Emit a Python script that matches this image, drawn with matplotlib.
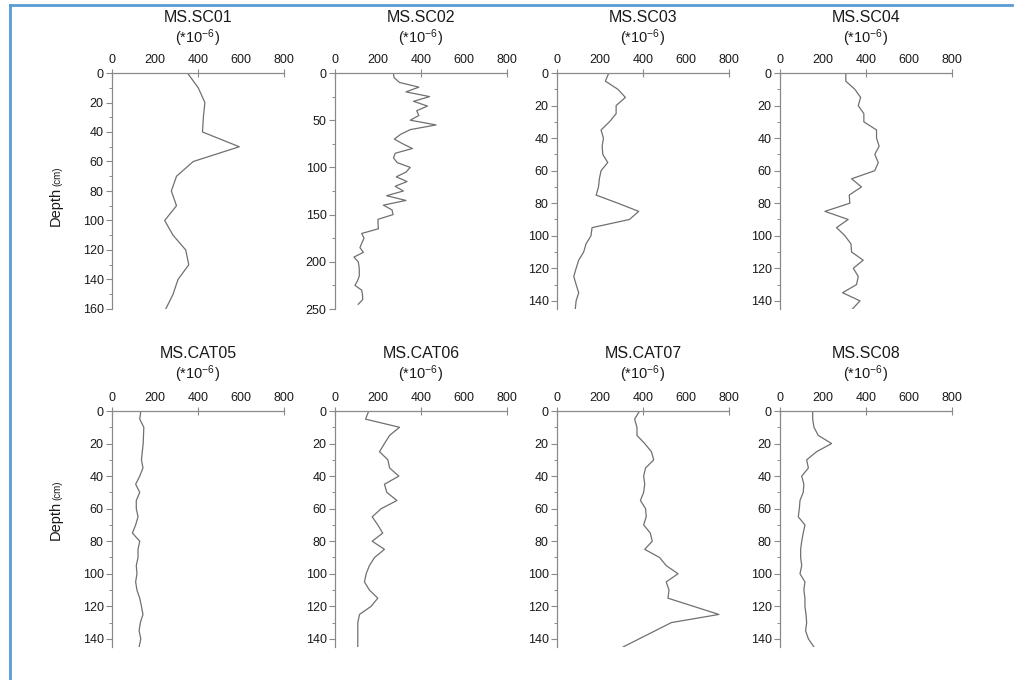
import matplotlib
matplotlib.use('Agg')
import matplotlib.pyplot as plt
from matplotlib.lines import Line2D
import numpy as np

plt.rcParams['font.family'] = ['Liberation Sans', 'DejaVu Sans']
plt.rcParams['mathtext.default'] = 'regular'

# ---------------- data ----------------
titles = ["MS.SC01", "MS.SC02", "MS.SC03", "MS.SC04",
          "MS.CAT05", "MS.CAT06", "MS.CAT07", "MS.SC08"]
unit_label = r"(*10$^{-6}$)"

sc01_depth = [0, 10, 20, 30, 40, 50, 60, 70, 80, 90, 100, 110, 120, 130, 140, 150, 160]
sc01_ms = [351, 401, 432, 425, 421, 592, 378, 300, 276, 300, 245, 284, 343, 357, 307, 284, 250]

sc02_depth = [0, 5, 10, 15, 20, 25, 30, 35, 40, 45, 50, 55, 60, 65, 70, 75, 80, 85, 90, 95,
              100, 105, 110, 115, 120, 125, 130, 135, 140, 145, 150, 155, 160, 165, 170, 175,
              180, 185, 190, 195, 200, 205, 210, 215, 220, 225, 230, 235, 240, 245]
sc02_ms = [271, 275, 300, 390, 330, 440, 365, 430, 380, 390, 350, 470, 350, 305, 276, 315,
           360, 280, 272, 290, 350, 330, 285, 335, 280, 318, 240, 330, 225, 265, 270, 200,
           200, 202, 124, 135, 125, 116, 132, 88, 108, 112, 113, 113, 105, 93, 124, 128, 129, 108]

sc03_depth = [0, 5, 10, 15, 20, 25, 30, 35, 40, 45, 50, 55, 60, 65, 70, 75, 80, 85, 90, 95,
              100, 105, 110, 115, 120, 125, 130, 135, 140, 145]
sc03_ms = [241, 225, 283, 318, 275, 275, 244, 205, 216, 210, 213, 236, 205, 197, 193, 182,
           283, 380, 337, 163, 158, 135, 124, 101, 89, 78, 89, 101, 89, 85]

sc04_depth = [0, 5, 10, 15, 20, 25, 30, 35, 40, 45, 50, 55, 60, 65, 70, 75, 80, 85, 90, 95,
              100, 105, 110, 115, 120, 125, 130, 135, 140, 145]
sc04_ms = [306, 306, 348, 375, 364, 390, 390, 449, 449, 461, 441, 457, 441, 333, 379, 322,
           325, 209, 317, 263, 302, 330, 333, 387, 341, 364, 356, 291, 372, 337]

cat05_depth = [0, 5, 10, 20, 30, 35, 40, 45, 50, 55, 60, 65, 70, 75, 80, 85, 90, 95,
               100, 105, 110, 115, 120, 125, 130, 135, 140, 145]
cat05_ms = [134, 129, 148, 145, 137, 144, 129, 110, 129, 113, 113, 121, 110, 95, 129, 121,
            121, 113, 116, 110, 116, 129, 137, 144, 132, 126, 134, 126]

cat06_depth = [0, 5, 10, 15, 20, 25, 30, 35, 40, 45, 50, 55, 60, 65, 70, 75, 80, 85, 90, 95,
               100, 105, 110, 115, 120, 125, 130, 135, 140, 145]
cat06_ms = [157, 142, 300, 254, 230, 207, 246, 254, 297, 230, 241, 288, 215, 173, 199, 222,
            173, 230, 184, 160, 145, 137, 160, 199, 168, 114, 106, 106, 106, 106]

cat07_depth = [0, 5, 10, 15, 20, 25, 30, 35, 40, 45, 50, 55, 60, 65, 70, 75, 80, 85, 90, 95,
               100, 105, 110, 115, 125, 130, 145]
cat07_ms = [384, 361, 372, 372, 408, 439, 450, 412, 403, 408, 403, 388, 412, 415, 403, 434,
            443, 408, 477, 508, 563, 508, 521, 516, 753, 532, 307]

sc08_depth = [0, 5, 10, 15, 20, 25, 30, 35, 40, 45, 50, 55, 60, 65, 70, 75, 80, 85, 90, 95,
              100, 105, 110, 115, 120, 125, 130, 135, 140, 145]
sc08_ms = [152, 152, 158, 178, 240, 170, 124, 132, 101, 111, 108, 93, 90, 85, 116, 108,
           101, 96, 96, 101, 93, 116, 111, 116, 116, 121, 124, 119, 132, 158]

x_ticks_major = [0, 400, 800]
x_ticks_minor = [200, 600]

series = [(sc01_ms, sc01_depth), (sc02_ms, sc02_depth), (sc03_ms, sc03_depth), (sc04_ms, sc04_depth),
          (cat05_ms, cat05_depth), (cat06_ms, cat06_depth), (cat07_ms, cat07_depth), (sc08_ms, sc08_depth)]
y_max = [160, 250, 145, 145, 145, 145, 145, 145]
y_major_step = [20, 50, 20, 20, 20, 20, 20, 20]
y_label_max = [160, 250, 140, 140, 140, 140, 140, 140]

# ---------------- layout ----------------
W, H = 1015, 680
fig = plt.figure(figsize=(W / 100, H / 100), dpi=100)

lefts = [112, 335, 557, 780]
row_tops = [73, 411]
ax_w = 172
ax_h = 236

line_col = '#707070'
spine_col = '#8a8a8a'
text_col = '#1a1a1a'

for i, (vals, deps) in enumerate(series):
    r, c = divmod(i, 4)
    l = lefts[c]
    t = row_tops[r]
    ax = fig.add_axes([l / W, 1 - (t + ax_h) / H, ax_w / W, ax_h / H])
    ax.plot(vals, deps, color=line_col, lw=0.9)
    ax.set_xlim(0, 800)
    ax.set_ylim(y_max[i], 0)
    ax.spines['right'].set_visible(False)
    ax.spines['bottom'].set_visible(False)
    for s in ('left', 'top'):
        ax.spines[s].set_color(spine_col)
        ax.spines[s].set_linewidth(0.9)
    ax.xaxis.tick_top()
    ax.set_xticks(x_ticks_major, labels=[str(v) for v in x_ticks_major])
    ax.set_xticks(x_ticks_minor, labels=[str(v) for v in x_ticks_minor], minor=True)
    ax.tick_params(axis='x', which='major', direction='inout', length=6, width=0.8,
                   colors=spine_col, labelcolor=text_col, labelsize=9, pad=2)
    ax.tick_params(axis='x', which='minor', length=0, labelcolor=text_col, labelsize=9, pad=5)
    step = y_major_step[i]
    ax.set_yticks(np.arange(0, y_label_max[i] + 1, step))
    ax.set_yticks(np.arange(step / 2, y_max[i] + 0.1, step), minor=True)
    ax.tick_params(axis='y', which='major', direction='out', length=4, width=0.8,
                   colors=spine_col, labelcolor=text_col, labelsize=9, pad=2)
    ax.tick_params(axis='y', which='minor', direction='out', length=2, width=0.7,
                   colors=spine_col)
    ax.patch.set_alpha(0)

    cx = (l + ax_w / 2) / W
    ty = 17 if r == 0 else 353
    fig.text(cx, 1 - ty / H, titles[i], ha='center', va='center', fontsize=11.5, color=text_col)
    fig.text(cx, 1 - (ty + 21) / H, unit_label, ha='center', va='center', fontsize=10.5, color=text_col)

# Depth labels
for (dy, cy) in [(206, 176), (520, 490)]:
    fig.text(56 / W, 1 - dy / H, 'Depth', rotation=90, ha='center', va='center',
             fontsize=10.5, color=text_col)
    fig.text(57 / W, 1 - cy / H, '(cm)', rotation=90, ha='center', va='center',
             fontsize=7, color=text_col)

# blue frame
frame_col = '#5b9bd5'
fig.add_artist(Line2D([10 / W, 1012 / W], [1 - 5 / H, 1 - 5 / H], transform=fig.transFigure,
                      color=frame_col, lw=2))
fig.add_artist(Line2D([10 / W, 10 / W], [1 - 5 / H, 0], transform=fig.transFigure,
                      color=frame_col, lw=2))

fig.savefig('out.png', dpi=100)
